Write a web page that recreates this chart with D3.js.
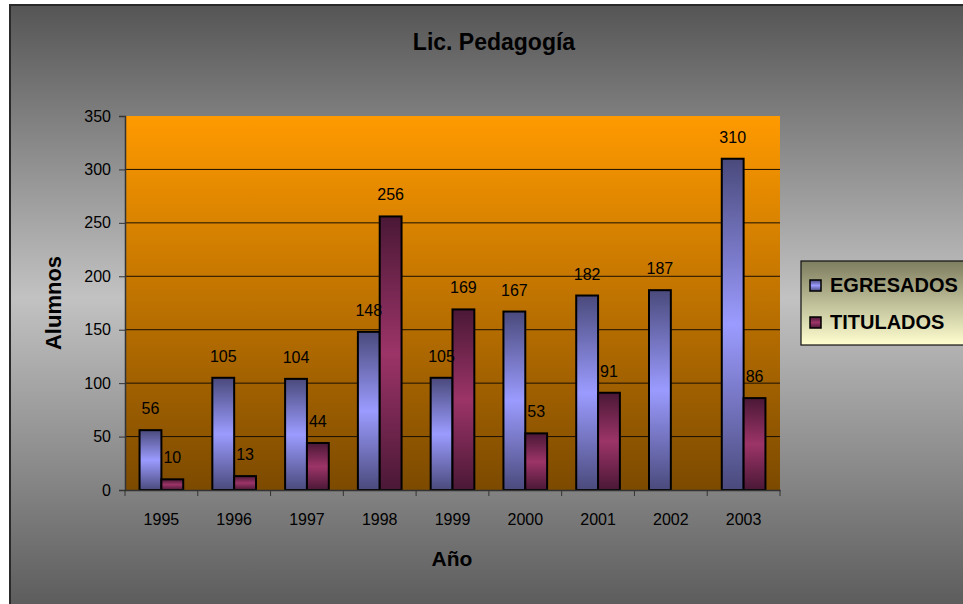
<!DOCTYPE html>
<html>
<head>
<meta charset="utf-8">
<script src="https://cdn.jsdelivr.net/npm/d3@7"></script>
<style>
html,body{margin:0;padding:0;background:#fff;}
svg{display:block;font-family:"Liberation Sans",Arial,sans-serif;}
</style>
</head>
<body>
<svg id="chart" width="963" height="604"></svg>
<script>
const years = ["1995","1996","1997","1998","1999","2000","2001","2002","2003"];
const seriesNames = ["EGRESADOS","TITULADOS"];
const egresados = [56,105,104,148,105,167,182,187,310];
const titulados = [10,13,44,256,169,53,91,null,86];
const yTicks = [0,50,100,150,200,250,300,350];

const svg = d3.select("#chart");
const defs = svg.append("defs");

const m = {left:125, right:780, top:116, bottom:490};

const bg = defs.append("linearGradient").attr("id","bg").attr("x1",0).attr("y1",0).attr("x2",0).attr("y2",1);
bg.append("stop").attr("offset","0%").attr("stop-color","#555555");
bg.append("stop").attr("offset","48%").attr("stop-color","#c2c2c2");
bg.append("stop").attr("offset","100%").attr("stop-color","#595959");

const pg = defs.append("linearGradient").attr("id","plotbg").attr("x1",0).attr("y1",0).attr("x2",0).attr("y2",1);
pg.append("stop").attr("offset","0%").attr("stop-color","#ff9a00");
pg.append("stop").attr("offset","100%").attr("stop-color","#7c4a00");

const lg = defs.append("linearGradient").attr("id","legbg").attr("x1",0).attr("y1",0).attr("x2",0).attr("y2",1);
lg.append("stop").attr("offset","0%").attr("stop-color","#7d7d60");
lg.append("stop").attr("offset","100%").attr("stop-color","#ffffd0");

function barGrad(id, dark, light){
  const g = defs.append("linearGradient").attr("id",id).attr("x1",0).attr("y1",0).attr("x2",0).attr("y2",1);
  g.append("stop").attr("offset","0%").attr("stop-color",dark);
  g.append("stop").attr("offset","50%").attr("stop-color",light);
  g.append("stop").attr("offset","100%").attr("stop-color",dark);
}
barGrad("gE","#4a4a7c","#9b9bff");
barGrad("gT","#4a1836","#9c3468");
const fills = {EGRESADOS:"url(#gE)", TITULADOS:"url(#gT)"};

svg.append("rect").attr("x",10).attr("y",5).attr("width",960).attr("height",610)
  .attr("fill","url(#bg)").attr("stroke","#2a2a2a").attr("stroke-width",2);

svg.append("rect").attr("x",m.left).attr("y",m.top).attr("width",m.right-m.left).attr("height",m.bottom-m.top)
  .attr("fill","url(#plotbg)");

const x0 = d3.scaleBand().domain(years).range([m.left,m.right]).padding(0);
const bw = x0.bandwidth();
const x1 = d3.scaleBand().domain(seriesNames).range([bw*0.2, bw*0.8]).padding(0);
const y = d3.scaleLinear().domain([0,350]).range([m.bottom,m.top]);

svg.append("g").selectAll("line").data(yTicks.filter(t=>t>0 && t<350)).join("line")
  .attr("x1",m.left).attr("x2",m.right).attr("y1",d=>y(d)).attr("y2",d=>y(d))
  .attr("stroke","#1a1000").attr("stroke-width",1);

const data = years.map((yr,i)=>({year:yr, values:[
  {s:"EGRESADOS", v:egresados[i]},
  {s:"TITULADOS", v:titulados[i]}
]}));

const groups = svg.append("g").selectAll("g").data(data).join("g")
  .attr("transform",d=>`translate(${x0(d.year)},0)`);

groups.selectAll("rect").data(d=>d.values.filter(v=>v.v!=null)).join("rect")
  .attr("x",d=>x1(d.s)).attr("width",x1.bandwidth())
  .attr("y",d=>y(d.v)).attr("height",d=>y(0)-y(d.v))
  .attr("fill",d=>fills[d.s]).attr("stroke","#000").attr("stroke-width",2);

groups.selectAll("text").data(d=>d.values.filter(v=>v.v!=null)).join("text")
  .attr("x",d=>x1(d.s)+x1.bandwidth()/2).attr("y",d=>y(d.v)-16)
  .attr("text-anchor","middle").attr("font-size",16).attr("fill","#000")
  .text(d=>d.v);

const yAxis = svg.append("g").attr("transform",`translate(${m.left},0)`)
  .call(d3.axisLeft(y).tickValues(yTicks).tickSize(6).tickPadding(8));
yAxis.select(".domain").attr("stroke","#333").attr("stroke-width",1.5);
yAxis.selectAll(".tick line").attr("stroke","#333");
yAxis.selectAll("text").attr("font-size",16).attr("fill","#000").attr("font-family","Liberation Sans, Arial, sans-serif");

const xAxis = svg.append("g").attr("transform",`translate(0,${m.bottom})`)
  .call(d3.axisBottom(x0).tickSize(0).tickPadding(24));
xAxis.select(".domain").attr("stroke","#333").attr("stroke-width",1.5);
xAxis.selectAll("text").attr("font-size",16).attr("fill","#000").attr("font-family","Liberation Sans, Arial, sans-serif");
svg.append("g").selectAll("line").data(years.concat(["end"])).join("line")
  .attr("x1",(d,i)=> i<years.length ? x0(d) : m.right)
  .attr("x2",(d,i)=> i<years.length ? x0(d) : m.right)
  .attr("y1",m.bottom).attr("y2",m.bottom+6)
  .attr("stroke","#333").attr("stroke-width",1);

svg.append("text").attr("x",494).attr("y",50).attr("text-anchor","middle")
  .attr("font-size",23).attr("font-weight","bold").attr("fill","#000").text("Lic. Pedagogía");
svg.append("text").attr("transform","translate(61,303) rotate(-90)").attr("text-anchor","middle")
  .attr("font-size",22).attr("font-weight","bold").attr("fill","#000").text("Alumnos");
svg.append("text").attr("x",452).attr("y",566).attr("text-anchor","middle")
  .attr("font-size",21).attr("font-weight","bold").attr("fill","#000").text("Año");

const leg = svg.append("g");
leg.append("rect").attr("x",801).attr("y",261).attr("width",170).attr("height",84)
  .attr("fill","url(#legbg)").attr("stroke","#111").attr("stroke-width",1.2);
const li = leg.selectAll("g").data(seriesNames).join("g")
  .attr("transform",(d,i)=>`translate(810,${280+i*37})`);
li.append("rect").attr("width",11).attr("height",11).attr("fill",d=>fills[d])
  .attr("stroke","#000").attr("stroke-width",1.5);
li.append("text").attr("x",20).attr("y",12).attr("font-size",20).attr("font-weight","bold")
  .attr("fill","#000").text(d=>d);
</script>
</body>
</html>
